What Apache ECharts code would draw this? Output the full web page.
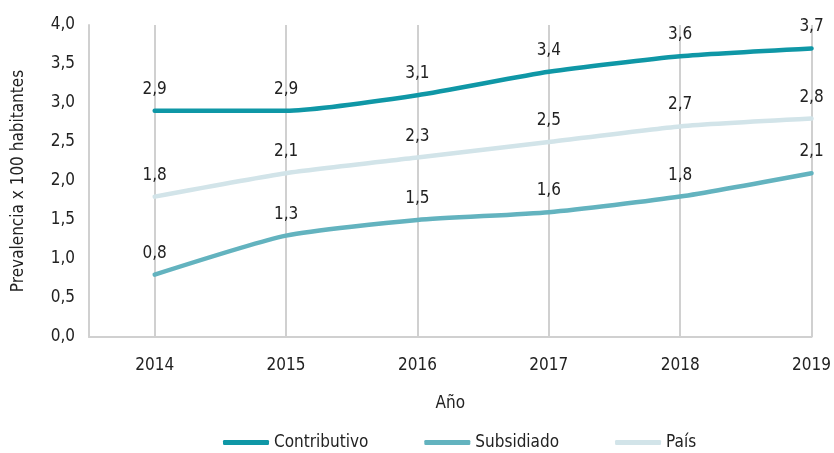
<!DOCTYPE html>
<html>
<head>
<meta charset="utf-8">
<script src="https://cdn.jsdelivr.net/npm/echarts@6/dist/echarts.min.js"></script>
<style>
  html, body { margin: 0; padding: 0; background: #fff; }
  #chart { width: 834px; height: 453px; }
</style>
</head>
<body>
<div id="chart"></div>
<script>
// datos de prevalencia por régimen
const years = [2014, 2015, 2016, 2017, 2018, 2019]
const contributivo = [2.9, 2.9, 3.1, 3.4, 3.6, 3.7]
const subsidiado = [0.8, 1.3, 1.5, 1.6, 1.8, 2.1]
const pais = [1.8, 2.1, 2.3, 2.5, 2.7, 2.8]

const FONT = '"DejaVu Sans Condensed", "Noto Sans", sans-serif'
const fmt = v => v.toFixed(1).replace('.', ',')
const pair = arr => arr.map((v, i) => [years[i], v])

const chart = echarts.init(document.getElementById('chart'))

function lineSeries(name, data, color) {
  return {
    name: name,
    type: 'line',
    smooth: 0.2,
    z: 10,
    data: pair(data),
    symbol: 'circle',
    symbolSize: 2,
    showSymbol: true,
    lineStyle: { color: color, width: 4.5, cap: 'round' },
    itemStyle: { color: color },
    label: {
      show: true,
      position: 'top',
      distance: 12,
      color: '#222',
      fontSize: 17,
      fontFamily: FONT,
      formatter: p => fmt(p.value[1])
    }
  }
}

const option = {
  animation: false,
  textStyle: { fontFamily: FONT },
  grid: { left: 89, right: 21, top: 25, bottom: 116 },
  legend: {
    bottom: -3,
    left: 218,
    icon: 'roundRect',
    itemWidth: 46,
    itemHeight: 5,
    itemGap: 56,
    textStyle: { fontSize: 17, color: '#222', fontFamily: FONT },
    data: ['Contributivo', 'Subsidiado', 'País']
  },
  xAxis: {
    type: 'value',
    min: 2013.5,
    max: 2019,
    name: 'Año',
    nameLocation: 'middle',
    nameGap: 58,
    nameTextStyle: { fontSize: 17, color: '#222', fontFamily: FONT },
    axisLine: { show: true, lineStyle: { color: '#d0d0d0', width: 2 } },
    axisTick: { show: false },
    splitLine: { show: false },
    axisLabel: {
      customValues: years,
      margin: 20,
      fontSize: 17,
      color: '#222',
      fontFamily: FONT,
      formatter: v => String(v)
    }
  },
  yAxis: {
    type: 'value',
    min: 0,
    max: 4,
    interval: 0.5,
    name: 'Prevalencia x 100 habitantes',
    nameLocation: 'middle',
    nameGap: 62,
    nameTextStyle: { fontSize: 17, color: '#222', fontFamily: FONT },
    axisLine: { show: true, lineStyle: { color: '#d0d0d0', width: 2 } },
    axisTick: { show: false },
    splitLine: { show: false },
    axisLabel: {
      margin: 14,
      fontSize: 17,
      color: '#222',
      fontFamily: FONT,
      formatter: v => fmt(v)
    }
  },
  series: [
    {
      // líneas verticales de cada año
      type: 'line',
      data: [],
      z: 1,
      silent: true,
      markLine: {
        z: 1,
        silent: true,
        symbol: 'none',
        label: { show: false },
        lineStyle: { color: '#d0d0d0', width: 2, type: 'solid' },
        data: years.map(y => ({ xAxis: y }))
      }
    },
    lineSeries('Contributivo', contributivo, '#0f97a6'),
    lineSeries('Subsidiado', subsidiado, '#63b3bf'),
    lineSeries('País', pais, '#d2e4e9')
  ]
}

chart.setOption(option)
</script>
</body>
</html>
